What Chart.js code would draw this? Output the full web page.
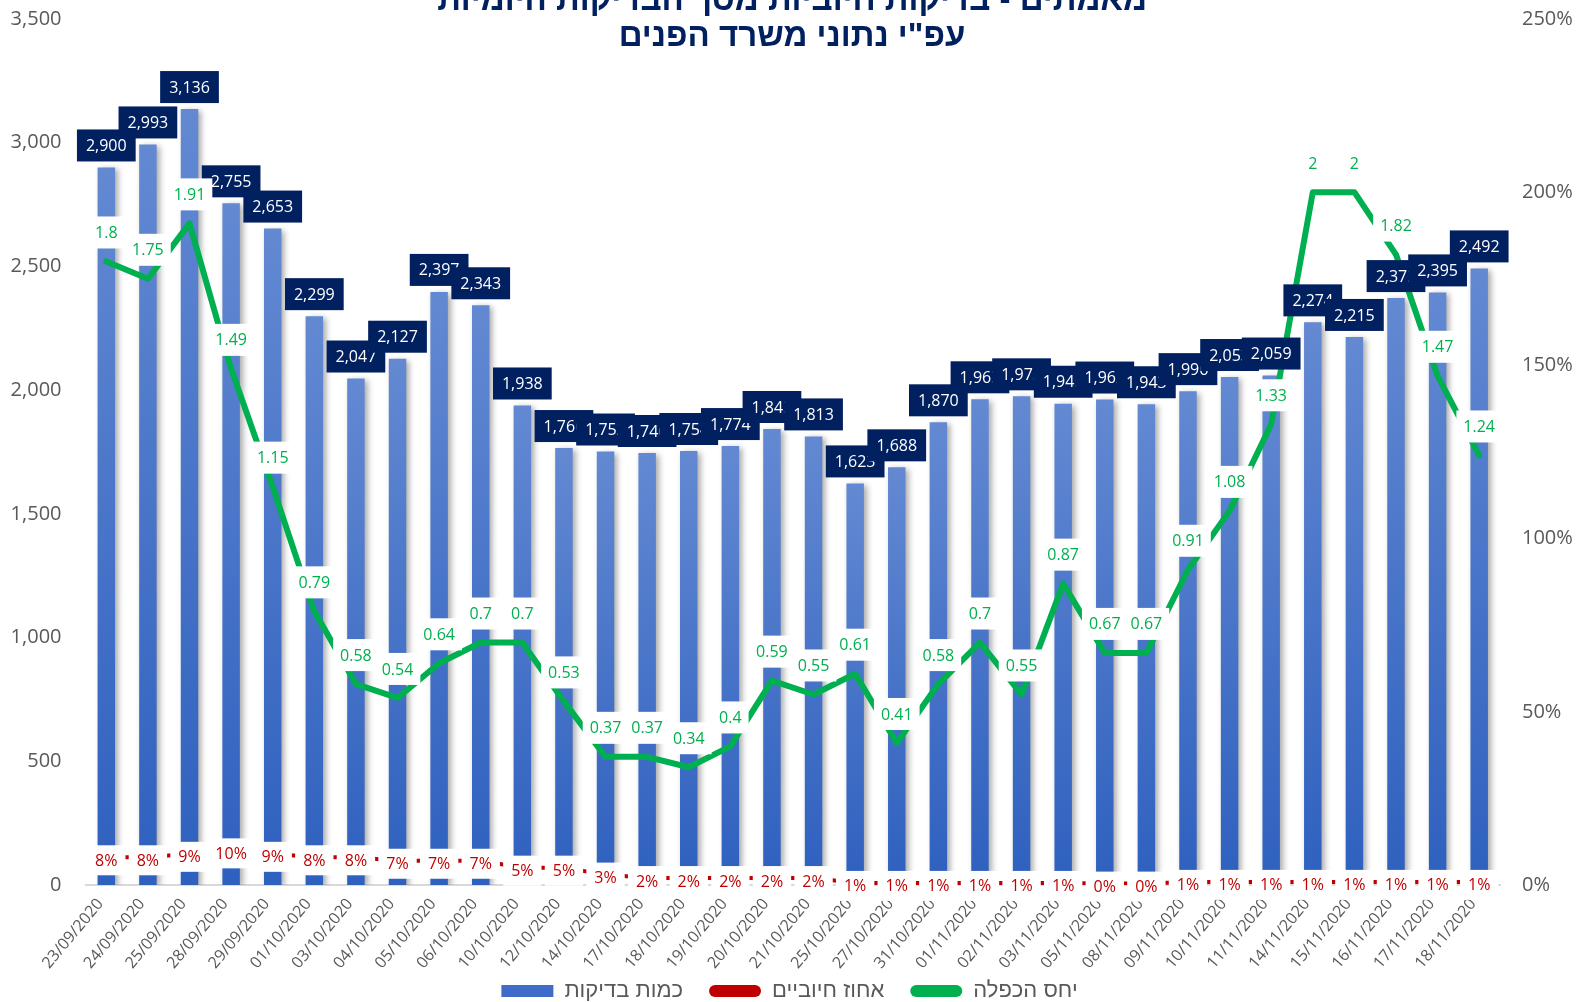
<!DOCTYPE html>
<html>
<head>
<meta charset="utf-8">
<script src="https://cdn.jsdelivr.net/npm/chart.js@4.4.0/dist/chart.umd.min.js"></script>
<style>
    html, body { margin: 0; padding: 0; background: #fff; overflow: hidden; }
    #contenedor { width: 1579px; height: 1012px; }
</style>
</head>
<body>
<div id="contenedor"><canvas id="graficoBdikot" width="1579" height="1012"></canvas></div>
<script>
// --- DATOS ---
var fechas = ['23/09/2020', '24/09/2020', '25/09/2020', '28/09/2020', '29/09/2020', '01/10/2020', '03/10/2020',
    '04/10/2020', '05/10/2020', '06/10/2020', '10/10/2020', '12/10/2020', '14/10/2020', '17/10/2020', '18/10/2020',
    '19/10/2020', '20/10/2020', '21/10/2020', '25/10/2020', '27/10/2020', '31/10/2020', '01/11/2020', '02/11/2020',
    '03/11/2020', '05/11/2020', '08/11/2020', '09/11/2020', '10/11/2020', '11/11/2020', '14/11/2020', '15/11/2020',
    '16/11/2020', '17/11/2020', '18/11/2020'];

var cantidadBdikot = [2900, 2993, 3136, 2755, 2653, 2299, 2047, 2127, 2397, 2343, 1938, 1766, 1752, 1746, 1754,
    1774, 1843, 1813, 1623, 1688, 1870, 1963, 1975, 1945, 1962, 1943, 1996, 2053, 2059, 2274, 2215, 2372, 2395, 2492];

var porcentajePositivos = [0.08, 0.08, 0.09, 0.10, 0.09, 0.08, 0.08, 0.07, 0.07, 0.07, 0.05, 0.05, 0.03, 0.02, 0.02,
    0.02, 0.02, 0.02, 0.006, 0.006, 0.006, 0.006, 0.006, 0.006, 0.004, 0.004, 0.009, 0.009, 0.009, 0.009, 0.009,
    0.009, 0.009, 0.009];

var razonDuplicacion = [1.8, 1.75, 1.91, 1.49, 1.15, 0.79, 0.58, 0.54, 0.64, 0.7, 0.7, 0.53, 0.37, 0.37, 0.34,
    0.4, 0.59, 0.55, 0.61, 0.41, 0.58, 0.7, 0.55, 0.87, 0.67, 0.67, 0.91, 1.08, 1.33, 2, 2, 1.82, 1.47, 1.24];

var nombresSeries = ['כמות בדיקות', 'אחוז חיוביים', 'יחס הכפלה'];
var titulo = ['מאמתים - בדיקות חיוביות מסך הבדיקות היומיות', 'עפ"י נתוני משרד הפנים'];

var azulOscuro = '#002060';
var gris = '#595959';

// sombra de las barras
var sombraBarras = {
    id: 'sombraBarras',
    beforeDatasetDraw: function (chart, args) {
        if (args.index !== 0) return;
        var c = chart.ctx;
        c.save();
        c.shadowColor = 'rgba(0, 0, 0, 0.35)';
        c.shadowBlur = 6;
        c.shadowOffsetX = 3;
        c.shadowOffsetY = 2;
    },
    afterDatasetDraw: function (chart, args) {
        if (args.index === 0) chart.ctx.restore();
    }
};

// la leyenda ocupa poco alto pero con separacion ancha entre items: la subimos un poco
var subirLeyenda = {
    id: 'subirLeyenda',
    afterLayout: function (chart) {
        chart.legend.top -= 17;
        chart.legend.height += 17;
    }
};

function dibujarCaja(c, texto, cx, cy, fondo, color, padX, alto) {
    var w = c.measureText(texto).width + padX * 2;
    c.fillStyle = fondo;
    c.fillRect(cx - w / 2, cy - alto / 2, w, alto);
    c.fillStyle = color;
    c.fillText(texto, cx, cy + 1);
}

// etiquetas tipo Excel + titulo
var etiquetas = {
    id: 'etiquetas',
    afterDatasetsDraw: function (chart) {
        var c = chart.ctx;
        c.save();
        c.textAlign = 'center';
        c.textBaseline = 'middle';
        c.font = '16px "Open Sans"';

        var barras = chart.getDatasetMeta(0).data;
        barras.forEach(function (b, i) {
            dibujarCaja(c, cantidadBdikot[i].toLocaleString('en-US'), b.x, b.y - 22, azulOscuro, '#ffffff', 9, 32);
        });

        var rojos = chart.getDatasetMeta(1).data;
        rojos.forEach(function (p, i) {
            dibujarCaja(c, Math.round(porcentajePositivos[i] * 100) + '%', p.x, p.y + 3, '#ffffff', '#c00000', 8, 30);
        });

        var verdes = chart.getDatasetMeta(2).data;
        verdes.forEach(function (p, i) {
            dibujarCaja(c, String(razonDuplicacion[i]), p.x, p.y - 29, '#ffffff', '#00b050', 7, 32);
        });

        c.font = 'bold 33px "Liberation Sans"';
        c.direction = 'rtl';
        c.textBaseline = 'alphabetic';
        c.fillStyle = azulOscuro;
        c.fillText(titulo[0], 792, 10);
        c.fillText(titulo[1], 792, 46);
        c.restore();
    }
};

function sinPaddingVertical(s, ancho) {
    s.width = ancho;
    s.paddingTop = 0;
    s.paddingBottom = 0;
}

var ctx = document.getElementById('graficoBdikot').getContext('2d');

var grafico = new Chart(ctx, {
    type: 'bar',
    data: {
        labels: fechas,
        datasets: [{
            label: nombresSeries[0],
            data: cantidadBdikot,
            yAxisID: 'y',
            order: 3,
            barPercentage: 0.42,
            categoryPercentage: 1,
            backgroundColor: function (context) {
                var chart = context.chart;
                if (!chart.chartArea || context.raw === undefined) return '#4a76cc';
                var escala = chart.scales.y;
                var arriba = escala.getPixelForValue(context.raw);
                var g = chart.ctx.createLinearGradient(0, arriba, 0, escala.bottom);
                g.addColorStop(0, '#6389d2');
                g.addColorStop(1, '#2e60bf');
                return g;
            }
        }, {
            type: 'line',
            label: nombresSeries[1],
            data: porcentajePositivos,
            yAxisID: 'y1',
            order: 2,
            borderColor: '#c00000',
            borderWidth: 4,
            pointRadius: 0,
            tension: 0
        }, {
            type: 'line',
            label: nombresSeries[2],
            data: razonDuplicacion,
            yAxisID: 'y1',
            order: 1,
            borderColor: '#00b050',
            borderWidth: 6,
            borderJoinStyle: 'round',
            borderCapStyle: 'round',
            pointRadius: 0,
            tension: 0
        }]
    },
    options: {
        responsive: false,
        animation: false,
        layout: { padding: { top: 19 } },
        plugins: {
            tooltip: { enabled: false },
            legend: {
                position: 'bottom',
                maxHeight: 41,
                labels: {
                    boxWidth: 52,
                    boxHeight: 12,
                    padding: 26,
                    color: gris,
                    useBorderRadius: true,
                    font: { family: '"Liberation Sans"', size: 22 },
                    generateLabels: function () {
                        return [
                            { text: nombresSeries[0], fillStyle: '#3f6cc8', strokeStyle: '#3f6cc8', lineWidth: 0, borderRadius: 0, datasetIndex: 0, fontColor: gris },
                            { text: nombresSeries[1], fillStyle: '#c00000', strokeStyle: '#c00000', lineWidth: 0, borderRadius: 6, datasetIndex: 1, fontColor: gris },
                            { text: nombresSeries[2], fillStyle: '#00b050', strokeStyle: '#00b050', lineWidth: 0, borderRadius: 6, datasetIndex: 2, fontColor: gris }
                        ];
                    }
                }
            }
        },
        scales: {
            x: {
                grid: { display: false, drawTicks: false },
                border: { display: true, color: '#d9d9d9', width: 2 },
                ticks: {
                    autoSkip: false,
                    minRotation: 50,
                    maxRotation: 50,
                    padding: 10,
                    labelOffset: -6,
                    color: gris,
                    font: { family: '"Open Sans"', size: 16 }
                },
                afterFit: function (s) { s.height = 86; }
            },
            y: {
                position: 'left',
                min: 0,
                max: 3500,
                grid: { display: false, drawTicks: false },
                border: { display: false },
                ticks: {
                    stepSize: 500,
                    padding: 24,
                    color: gris,
                    font: { family: '"Open Sans"', size: 20 },
                    callback: function (v) { return v.toLocaleString('en-US'); }
                },
                afterFit: function (s) { sinPaddingVertical(s, 85.5); }
            },
            y1: {
                position: 'right',
                min: 0,
                max: 2.5,
                grid: { display: false, drawTicks: false },
                border: { display: false },
                ticks: {
                    stepSize: 0.5,
                    padding: 22,
                    color: gris,
                    font: { family: '"Open Sans"', size: 20 },
                    callback: function (v) { return Math.round(v * 100) + '%'; }
                },
                afterFit: function (s) { sinPaddingVertical(s, 79); }
            }
        }
    },
    plugins: [sombraBarras, subirLeyenda, etiquetas]
});
</script>
</body>
</html>
